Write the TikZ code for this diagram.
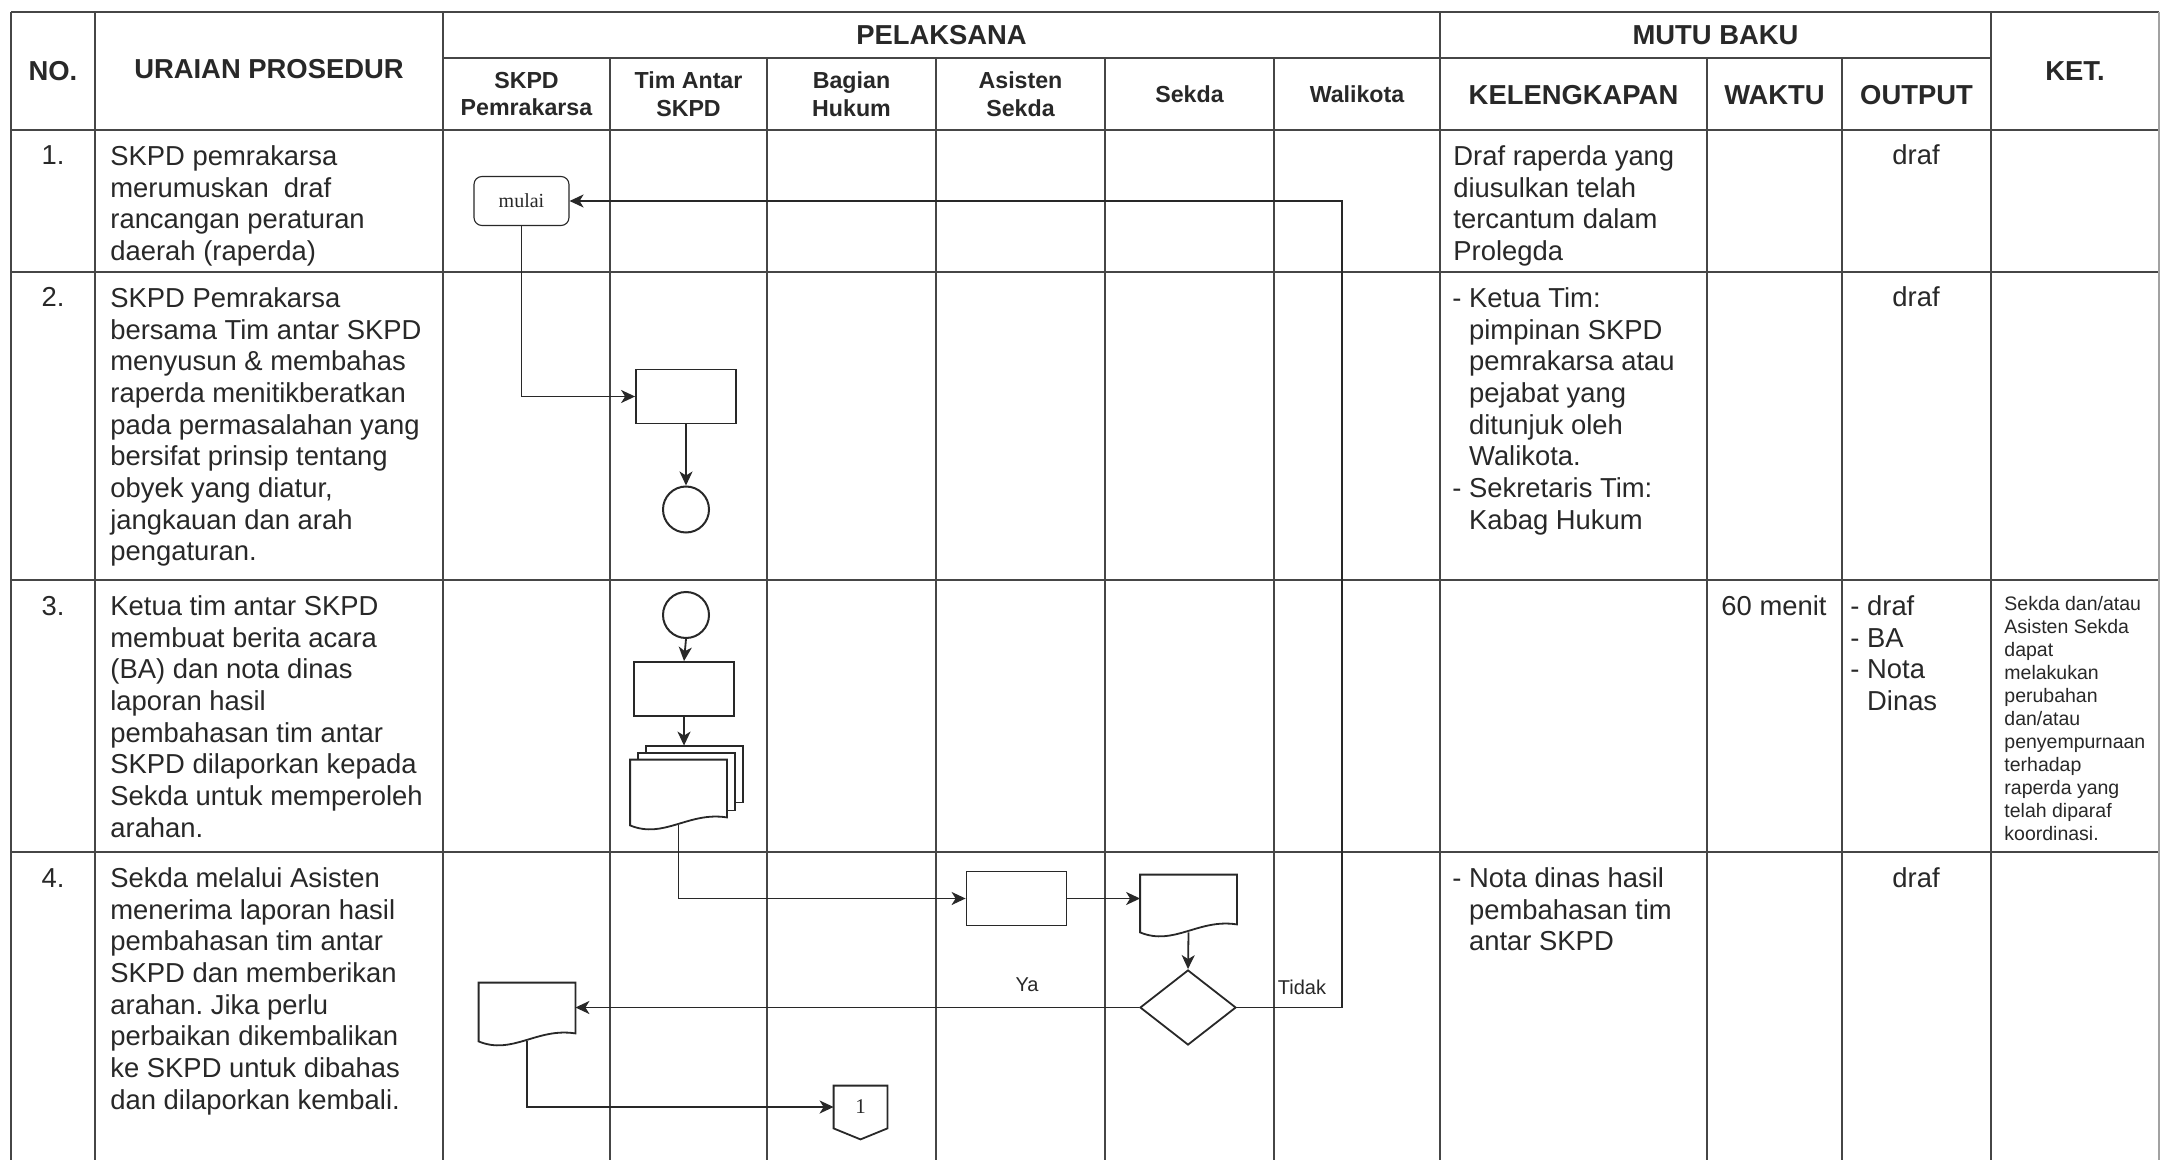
\documentclass[tikz,border=0pt]{standalone}
\usepackage{fontspec}
\setmainfont{Liberation Sans}
\newfontfamily\serifface{Liberation Serif}
\usepackage{tikz}
\usetikzlibrary{shapes.geometric, arrows.meta, positioning, calc}
\definecolor{inkgray}{RGB}{40, 40, 40}
\definecolor{rulegray}{RGB}{70, 70, 70}
\frenchspacing
\newcommand{\dashind}{\hphantom{-\ }}
\newcommand{\docoutline}[1]{%
    \draw [shapeline] (#1.north west) -- (#1.north east) -- ([yshift=4pt]#1.south east)
        .. controls ($(#1.south west)!0.6!(#1.south east)+(0,7pt)$)
        and ($(#1.south west)!0.35!(#1.south east)+(0,-7pt)$) .. (#1.south west) -- cycle;}
\tikzset{
    tablerule/.style = {draw=rulegray, line width=0.8pt},
    headtext/.style = {font=\fontsize{13.7}{15.85}\selectfont\bfseries, text=inkgray, align=center, inner sep=0pt},
    subhead/.style = {font=\fontsize{11.6}{13.8}\selectfont\bfseries, text=inkgray, align=center, inner sep=0pt},
    bodytext/.style = {font=\fontsize{13.7}{15.85}\selectfont, text=inkgray, align=left, inner sep=0pt, anchor=north west},
    smalltext/.style = {font=\fontsize{9.75}{11.5}\selectfont, text=inkgray, align=left, inner sep=0pt, anchor=north west},
    startbox/.style = {rectangle, rounded corners=4pt, draw=inkgray, line width=0.55pt, minimum width=47.5pt, minimum height=24.5pt, inner sep=0pt, text=inkgray, font=\serifface\fontsize{10}{12}\selectfont},
    procbox/.style = {rectangle, draw=inkgray, line width=0.9pt, minimum width=50pt, minimum height=27pt, inner sep=0pt},
    joint/.style = {circle, draw=inkgray, line width=1pt, minimum size=23pt, inner sep=0pt},
    docbox/.style = {rectangle, minimum width=48pt, minimum height=#1, inner sep=0pt},
    decision/.style = {diamond, draw=inkgray, line width=0.9pt, minimum width=48pt, minimum height=37.5pt, inner sep=0pt},
    pageconn/.style = {rectangle, minimum width=26.5pt, minimum height=21pt, inner sep=0pt, text=inkgray, font=\serifface\fontsize{10.5}{12}\selectfont},
    shapeline/.style = {draw=inkgray, line width=0.9pt},
    arrow/.style = {draw=inkgray, line width=0.9pt, -{Stealth[length=7pt, width=6.5pt, inset=2pt]}},
    flowlabel/.style = {font=\fontsize{10}{12}\selectfont, text=inkgray, inner sep=0pt}
}

\begin{document}
\begin{tikzpicture}[x=0.5pt, y=-0.5pt]
\fill [white] (0,0) rectangle (2161,1160);
\useasboundingbox (0,0) rectangle (2161,1160);

% table rules
\draw [tablerule] (11,12) -- (2159,12);
\draw [tablerule] (443,58) -- (1991,58);
\draw [tablerule] (11,130) -- (2159,130);
\draw [tablerule] (11,272) -- (2159,272);
\draw [tablerule] (11,580) -- (2159,580);
\draw [tablerule] (11,852) -- (2159,852);
\draw [tablerule] (11,12) -- (11,1160);
\draw [tablerule] (95,12) -- (95,1160);
\draw [tablerule] (443,12) -- (443,1160);
\draw [tablerule] (610,58) -- (610,1160);
\draw [tablerule] (767,58) -- (767,1160);
\draw [tablerule] (936,58) -- (936,1160);
\draw [tablerule] (1105,58) -- (1105,1160);
\draw [tablerule] (1274,58) -- (1274,1160);
\draw [tablerule] (1440,12) -- (1440,1160);
\draw [tablerule] (1707,58) -- (1707,1160);
\draw [tablerule] (1842,58) -- (1842,1160);
\draw [tablerule] (1991,12) -- (1991,1160);
\draw [tablerule, draw=rulegray!50] (2159,12) -- (2159,1160);

% header
\node (hno) [headtext] at (53,71) {NO.};
\node (huraian) [headtext] at (269,69) {URAIAN PROSEDUR};
\node (hpelaksana) [headtext] at (941.5,35) {PELAKSANA};
\node (hmutu) [headtext] at (1715.5,35) {MUTU BAKU};
\node (hket) [headtext] at (2075,71) {KET.};
\node (hskpd) [subhead] at (526.5,94) {SKPD\\Pemrakarsa};
\node (htim) [subhead] at (688.5,94) {Tim Antar\\SKPD};
\node (hhukum) [subhead] at (851.5,94) {Bagian\\Hukum};
\node (hasisten) [subhead] at (1020.5,94) {Asisten\\Sekda};
\node (hsekda) [subhead] at (1189.5,94) {Sekda};
\node (hwalikota) [subhead] at (1357,94) {Walikota};
\node (hkelengkapan) [headtext] at (1573.5,95) {KELENGKAPAN};
\node (hwaktu) [headtext] at (1774.5,95) {WAKTU};
\node (houtput) [headtext] at (1916.5,95) {OUTPUT};

% row numbers
\node (no1) [bodytext, anchor=base] at (53,165) {1.};
\node (no2) [bodytext, anchor=base] at (53,307) {2.};
\node (no3) [bodytext, anchor=base] at (53,615) {3.};
\node (no4) [bodytext, anchor=base] at (53,887) {4.};

% uraian prosedur
\node (ur1) [bodytext] at (110,142.8) {\strut SKPD pemrakarsa\\merumuskan \ draf\\rancangan peraturan\\daerah (raperda)};
\node (ur2) [bodytext] at (110,284.8) {\strut SKPD Pemrakarsa\\bersama Tim antar SKPD\\menyusun \& membahas\\raperda menitikberatkan\\pada permasalahan yang\\bersifat prinsip tentang\\obyek yang diatur,\\jangkauan dan arah\\pengaturan.};
\node (ur3) [bodytext] at (110,592.8) {\strut Ketua tim antar SKPD\\membuat berita acara\\(BA) dan nota dinas\\laporan hasil\\pembahasan tim antar\\SKPD dilaporkan kepada\\Sekda untuk memperoleh\\arahan.};
\node (ur4) [bodytext] at (110,864.8) {\strut Sekda melalui Asisten\\menerima laporan hasil\\pembahasan tim antar\\SKPD dan memberikan\\arahan. Jika perlu\\perbaikan dikembalikan\\ke SKPD untuk dibahas\\dan dilaporkan kembali.};

% mutu baku
\node (kel1) [bodytext] at (1453,142.8) {\strut Draf raperda yang\\diusulkan telah\\tercantum dalam\\Prolegda};
\node (kel2) [bodytext] at (1452,284.8) {\strut - Ketua Tim:\\\dashind pimpinan SKPD\\\dashind pemrakarsa atau\\\dashind pejabat yang\\\dashind ditunjuk oleh\\\dashind Walikota.\\- Sekretaris Tim:\\\dashind Kabag Hukum};
\node (kel4) [bodytext] at (1452,864.8) {\strut - Nota dinas hasil\\\dashind pembahasan tim\\\dashind antar SKPD};
\node (waktu3) [bodytext, anchor=base] at (1774,615) {60 menit};
\node (out1) [bodytext, anchor=base] at (1916,165) {draf};
\node (out2) [bodytext, anchor=base] at (1916,307) {draf};
\node (out3) [bodytext] at (1850,592.8) {\strut - draf\\- BA\\- Nota\\\dashind Dinas};
\node (out4) [bodytext, anchor=base] at (1916,887) {draf};
\node (ket3) [smalltext] at (2004,593.9) {\strut Sekda dan/atau\\Asisten Sekda\\dapat\\melakukan\\perubahan\\dan/atau\\penyempurnaan\\terhadap\\raperda yang\\telah diparaf\\koordinasi.};

% flow shapes
\node (mulai) [startbox] at (521.5,201) {mulai};
\node (susun) [procbox] at (686,396.5) {};
\node (joinA) [joint] at (686,509.5) {};
\node (joinB) [joint] at (686,615) {};
\node (ba) [procbox] at (684,689) {};
\node (stack) [docbox=32.5pt] at (678.5,792.5) {};
\draw [shapeline] ([xshift=8pt, yshift=3.5pt]stack.north west) -- ++(0,3.5pt)
    -| ([xshift=8pt, yshift=11.5pt]stack.south east) -- ([xshift=4pt, yshift=11.5pt]stack.south east);
\draw [shapeline] ([xshift=4pt]stack.north west) -- ++(0,3.5pt)
    -| ([xshift=4pt, yshift=7.5pt]stack.south east) -- ([yshift=7.5pt]stack.south east);
\docoutline{stack}
\coordinate (stacktop) at ([yshift=7pt]stack.north);
\node (asisten) [procbox] at (1016.5,898.5) {};
\node (nota) [docbox=28.5pt] at (1188.5,903.5) {};
\docoutline{nota}
\node (cek) [decision] at (1188,1007.5) {};
\node (kembali) [docbox=29pt] at (527,1012) {};
\docoutline{kembali}
\node (next) [pageconn] at (860.5,1107) {1};
\draw [shapeline] (next.south west) -- (next.north west) -- (next.north east)
    -- (next.south east) -- ([yshift=-5.5pt]next.south) -- cycle;
\coordinate (balik) at (1342,201);

% connectors
\draw [arrow] (mulai.south) |- (susun.west);
\draw [arrow] (susun.south) -- (joinA.north);
\draw [arrow] (joinB.south) -- (ba.north);
\draw [arrow] (ba.south) -- (ba.south |- stacktop);
\draw [arrow] (stack.south) |- (asisten.west);
\draw [arrow] (asisten.east) -- (asisten.east -| nota.west);
\draw [arrow] (nota.south) -- (cek.north);
\draw [arrow] (cek.west) -- (cek.west -| kembali.east);
\draw [arrow] (kembali.south) |- (next.west);
\draw [arrow] (cek.east) -| (balik) -- (mulai.east);
\node (ya) [flowlabel] at (1027,985) {Ya};
\node (tidak) [flowlabel] at (1302,987) {Tidak};
\end{tikzpicture}
\end{document}
